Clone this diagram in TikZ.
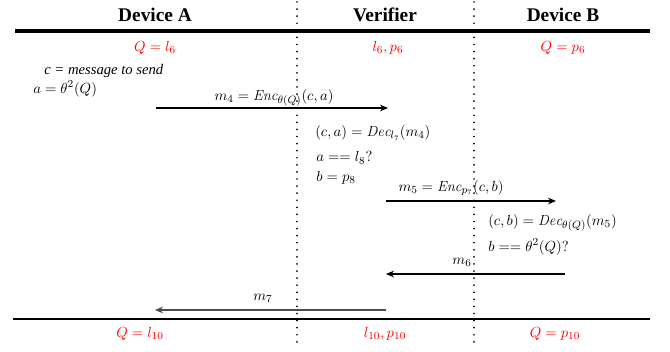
\documentclass[tikz,border=0pt]{standalone}
\usepackage{fontspec}
\newfontfamily\headfont{Liberation Serif}
\usetikzlibrary{arrows.meta}
\begin{document}
\begin{tikzpicture}[x=0.75pt,y=-0.75pt,
  head/.style={font=\headfont\fontsize{14.5}{16}\selectfont\bfseries, inner sep=0pt},
  redlab/.style={text=red, font=\fontsize{11}{13}\selectfont, inner sep=0pt},
  txt/.style={font=\fontsize{11}{13}\selectfont, inner sep=0pt, anchor=west},
  lbl/.style={font=\fontsize{11}{13}\selectfont, inner sep=0pt},
  msg/.style={-{Stealth[length=6pt,width=5pt]}, line width=0.8pt},
  life/.style={line width=1.4pt, line cap=round, dash pattern=on 0.01pt off 5.3pt}]
\useasboundingbox (0,0) rectangle (670,352);
% lifelines
\coordinate (l1t) at (297,2);
\coordinate (l1b) at (297,342);
\coordinate (l2t) at (474,2);
\coordinate (l2b) at (474,342);
\draw[life] (l1t) -- (l1b);
\draw[life] (l2t) -- (l2b);
% rules
\coordinate (r1a) at (15,31);
\coordinate (r1b) at (650,31);
\coordinate (r2a) at (13,319);
\coordinate (r2b) at (650,319);
\draw[line width=2.4pt] (r1a) -- (r1b);
\draw[line width=1.6pt] (r2a) -- (r2b);
% headings
\node[head] (hA) at (155,15) {Device A};
\node[head] (hV) at (385,15) {Verifier};
\node[head] (hB) at (563,15) {Device B};
% top states
\node[redlab] (sA) at (155,48) {$Q=l_6$};
\node[redlab] (sV) at (388,48) {$l_6,p_6$};
\node[redlab] (sB) at (563,48) {$Q=p_6$};
% device A lines
\node[txt, font=\headfont\itshape\fontsize{11}{13}\selectfont] (ta1) at (44,71) {c = message to send};
\node[txt] (ta2) at (33,89) {$a=\theta^2(Q)$};
% m4
\coordinate (m4s) at (156,108);
\coordinate (m4e) at (388,108);
\draw[msg] (m4s) -- (m4e);
\node[lbl] (m4l) at (274,98) {$m_4=\mathit{Enc}_{\theta(Q)}(c,a)$};
% verifier lines
\node[txt] (tv1) at (315,133) {$(c,a)=\mathit{Dec}_{l_7}(m_4)$};
\node[txt] (tv2) at (316,158) {$a==l_8?$};
\node[txt] (tv3) at (316,178) {$b=p_8$};
% m5
\coordinate (m5s) at (386,201);
\coordinate (m5e) at (556,201);
\draw[msg] (m5s) -- (m5e);
\node[lbl] (m5l) at (451,188) {$m_5=\mathit{Enc}_{p_7}(c,b)$};
% device B lines
\node[txt] (tb1) at (488,223) {$(c,b)=\mathit{Dec}_{\theta(Q)}(m_5)$};
\node[txt] (tb2) at (488,247) {$b==\theta^2(Q)?$};
% m6
\coordinate (m6s) at (565,274);
\coordinate (m6e) at (386,274);
\draw[msg] (m6s) -- (m6e);
\node[lbl] (m6l) at (462,262) {$m_6$};
% m7
\coordinate (m7s) at (386,310);
\coordinate (m7e) at (155,310);
\draw[msg, black!70] (m7s) -- (m7e);
\node[lbl] (m7l) at (263,298) {$m_7$};
% bottom states
\node[redlab] (eA) at (140,334) {$Q=l_{10}$};
\node[redlab] (eV) at (385,334) {$l_{10},p_{10}$};
\node[redlab] (eB) at (555,334) {$Q=p_{10}$};
\end{tikzpicture}
\end{document}
